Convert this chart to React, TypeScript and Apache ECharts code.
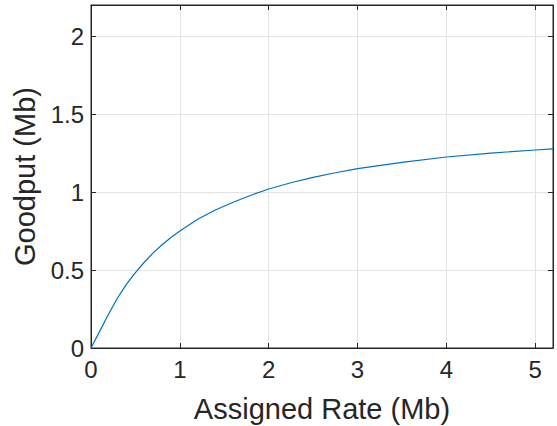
import React, { useEffect, useRef } from "react";
import * as echarts from "echarts";

const assignedRate = [0, 0.1, 0.2, 0.3, 0.4, 0.5, 0.6, 0.7, 0.8, 0.9, 1.0, 1.2, 1.4, 1.6, 1.8, 2.0, 2.25, 2.5, 2.75, 3, 3.5, 4, 4.5, 5, 5.2];
const goodput = [0, 0.11, 0.22, 0.322, 0.41, 0.484, 0.55, 0.61, 0.662, 0.709, 0.75, 0.826, 0.885, 0.935, 0.98, 1.02, 1.06, 1.094, 1.124, 1.15, 1.19, 1.225, 1.25, 1.27, 1.277];
const xTicks = [0, 1, 2, 3, 4, 5];
const yTicks = [0, 0.5, 1, 1.5, 2];

const FONT = "'Liberation Sans', Arial, Helvetica, sans-serif";
const TEXT = "#262626";

export default function App() {
  const ref = useRef<HTMLDivElement>(null);
  useEffect(() => {
    if (!ref.current) return;
    const chart = echarts.init(ref.current, undefined, { renderer: "svg" });
    const points = assignedRate.map((x, i) => [x, goodput[i]]);
    const fmtX = (v: number) => (xTicks.includes(v) ? String(v) : "");
    const fmtY = (v: number) => (yTicks.includes(v) ? String(v) : "");
    const baseX = {
      type: "value" as const,
      min: 0,
      max: 5.2,
      interval: 1,
      axisLine: { show: true, onZero: false, lineStyle: { color: TEXT, width: 1 } },
      axisTick: { show: true, inside: true, length: 5, lineStyle: { color: TEXT } },
    };
    const baseY = {
      type: "value" as const,
      min: 0,
      max: 2.2,
      interval: 0.5,
      axisLine: { show: true, onZero: false, lineStyle: { color: TEXT, width: 1 } },
      axisTick: { show: true, inside: true, length: 5, lineStyle: { color: TEXT } },
    };
    chart.setOption({
      animation: false,
      backgroundColor: "#ffffff",
      grid: {
        left: 91,
        right: 4,
        top: 5,
        bottom: 78,
        containLabel: false,
        outerBoundsMode: "none",
        show: true,
        borderColor: TEXT,
        borderWidth: 1,
        backgroundColor: "transparent",
      },
      xAxis: [
        {
          ...baseX,
          position: "bottom",
          name: "Assigned Rate (Mb)",
          nameLocation: "middle",
          nameGap: 46,
          nameTextStyle: { fontFamily: FONT, fontSize: 29, color: TEXT },
          axisLabel: { fontFamily: FONT, fontSize: 24, color: TEXT, margin: 9, formatter: fmtX },
          splitLine: { show: true, lineStyle: { color: "#e3e3e3", width: 1 } },
        },
        {
          ...baseX,
          position: "top",
          axisLabel: { show: false },
          splitLine: { show: false },
        },
      ],
      yAxis: [
        {
          ...baseY,
          position: "left",
          name: "Goodput (Mb)",
          nameLocation: "middle",
          nameGap: 50,
          nameTextStyle: { fontFamily: FONT, fontSize: 29, color: TEXT },
          axisLabel: { fontFamily: FONT, fontSize: 24, color: TEXT, margin: 7, formatter: fmtY },
          splitLine: { show: true, lineStyle: { color: "#e3e3e3", width: 1 } },
        },
        {
          ...baseY,
          position: "right",
          axisLabel: { show: false },
          splitLine: { show: false },
        },
      ],
      series: [
        {
          type: "line",
          data: points,
          smooth: false,
          showSymbol: false,
          symbol: "none",
          lineStyle: { color: "#0072BD", width: 1.2 },
          xAxisIndex: 0,
          yAxisIndex: 0,
        },
      ],
    });
    return () => chart.dispose();
  }, []);
  return (
    <div
      ref={ref}
      style={{ position: "fixed", left: 0, top: 0, width: 557, height: 426 }}
    />
  );
}
